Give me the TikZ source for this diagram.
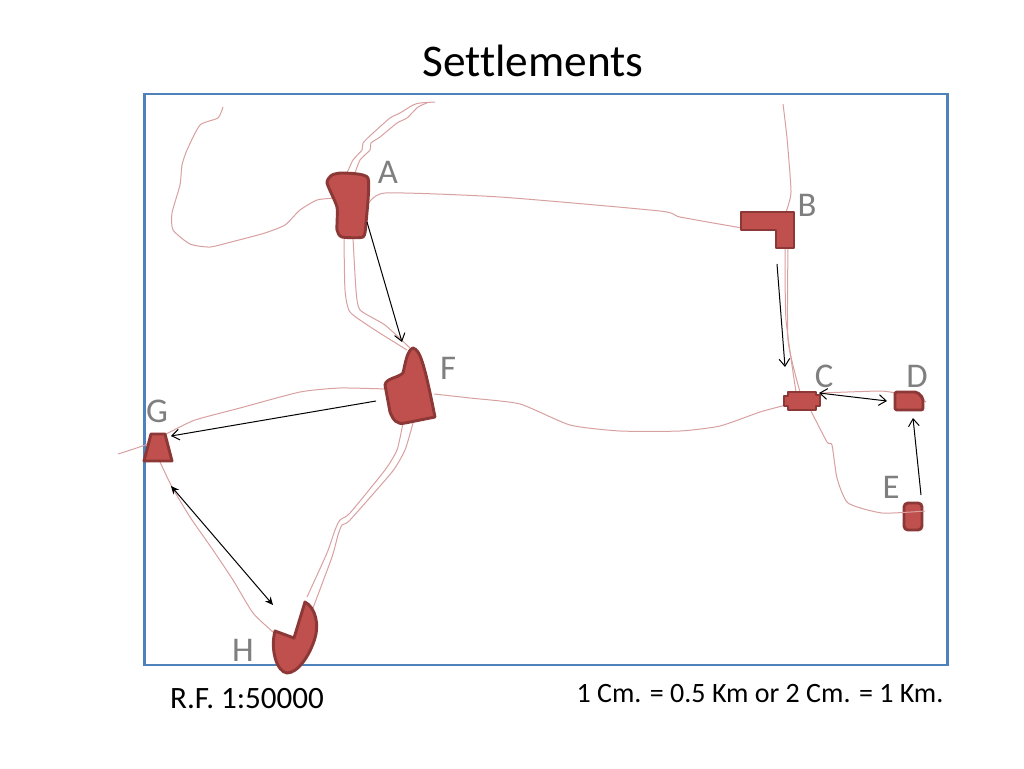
\documentclass[tikz,border=0pt]{standalone}
\usepackage{fontspec}
\setmainfont[Ligatures=CommonOff]{Carlito}
\usepackage{tikz}
\usetikzlibrary{arrows.meta,positioning}
\definecolor{frameblue}{RGB}{79,129,189}
\definecolor{townfill}{RGB}{192,80,77}
\definecolor{townline}{RGB}{140,56,54}
\definecolor{roadpink}{RGB}{217,160,160}
\definecolor{labelgray}{RGB}{127,127,127}
\tikzstyle{road} = [color=roadpink, line width=0.75pt, tension=0.35]
\tikzstyle{town} = [fill=townfill, draw=townline, line width=2.2pt, line join=round]
\tikzstyle{arrow} = [black, line width=0.75pt, -{Straight Barb[length=5.5pt,width=8pt]}]
\tikzstyle{bothways} = [black, line width=0.75pt, {Straight Barb[length=5.5pt,width=8pt]}-{Straight Barb[length=5.5pt,width=8pt]}]
\tikzstyle{twoway} = [black, line width=0.75pt, {Stealth[length=6pt,width=5.5pt]}-{Stealth[length=6pt,width=5.5pt]}]
\tikzstyle{placename} = [text=labelgray, font=\fontsize{26}{30}\selectfont, inner sep=0pt]
\begin{document}
\begin{tikzpicture}[x=0.75pt, y=-0.75pt]
\useasboundingbox (0,0) rectangle (1024,768);
\fill[white] (0,0) rectangle (1024,768);

% Title and frame
\node (title) [font=\fontsize{34}{40}\selectfont, inner sep=0pt] at (533,61) {Settlements};
\node (frame) [draw=frameblue, line width=2.2pt, minimum width=602pt, minimum height=428.25pt, inner sep=0pt] at (546,379.5) {};

% Roads
\draw[road] plot[smooth] coordinates {(347,173) (353,160) (362,150) (363,143) (372,134) (390,118) (400,113) (413,105) (420,103) (435,102)};
\draw[road] plot[smooth] coordinates {(355,173) (360,160) (370,150) (371,143) (380,137) (397,123) (407,118) (418,107) (427,103)};
\draw[road] plot[smooth] coordinates {(335,198) (317,200) (300,210) (285,225) (265,233) (235,241) (210,247) (190,244) (173,230) (172,213) (180,185) (182,165) (187,150) (200,125) (218,118) (223,107)};
\draw[road] plot[smooth] coordinates {(367,206) (385,193) (500,197) (660,211) (680,217) (742,228)};
\draw[road] plot[smooth] coordinates {(344,238) (345,290) (350,312) (375,330) (407,350)};
\draw[road] plot[smooth] coordinates {(353,238) (356,290) (360,310) (385,325) (410,348)};
\draw[road] plot[smooth] coordinates {(783,104) (787,138) (791,192) (786,212)};
\draw[road] plot[smooth] coordinates {(785,248) (786,320) (796,392)};
\draw[road] plot[smooth] coordinates {(788,248) (788,340) (800,392)};
\draw[road] plot[smooth] coordinates {(434,394) (470,398) (520,404) (570,425) (620,431) (680,431) (720,426) (760,412) (786,405)};
\draw[road] plot[smooth] coordinates {(820,393) (880,391) (895,393)};
\draw[road] (923,400) -- (926,402);
\draw[road] plot[smooth] coordinates {(386,389) (340,388) (300,392) (240,408) (195,420) (170,432) (145,445) (118,454)};
\draw[road] plot[smooth] coordinates {(160,462) (172,487) (190,517) (213,550) (233,580) (253,613) (273,632)};
\draw[road] plot[smooth] coordinates {(403,423) (397,450) (385,470) (350,513) (340,520) (335,530) (327,553) (307,597)};
\draw[road] plot[smooth] coordinates {(413,423) (405,450) (392,472) (350,520) (342,525) (338,535) (332,557) (313,608)};

% Settlements
\draw[town] plot[smooth cycle, tension=0.35] coordinates {(327,183) (332,175) (343,173) (368,178) (366,223) (363,237) (342,237) (337,230) (337,207)};
\draw[town] (741,212) -- (794,212) -- (794,248) -- (776,248) -- (776,230) -- (741,230) -- cycle;
\draw[town] (788,392) -- (816,392) -- (816,395) -- (820,395) -- (820,406) -- (816,406) -- (816,410) -- (788,410) -- (788,406) -- (784,406) -- (784,396) -- (788,396) -- cycle;
\draw[town, rounded corners=1.5pt] (895,392) -- (917,392) -- (923,398) -- (923,410) -- (895,410) -- cycle;
\draw[town, rounded corners=3pt] (904,503) rectangle (922,530);
\draw[road] plot[smooth] coordinates {(811,411) (827,442) (832,445) (837,478) (848,503) (882,513) (925,511)};
\draw[town] (413,348) .. controls (420,350) and (424,362) .. (435,417) -- (405,423) .. controls (397,425) and (393,420) .. (390,412) -- (385,385) .. controls (386,378) and (398,378) .. (403,373) .. controls (405,365) and (407,350) .. (413,348) -- cycle;
\draw[town] (151,434) -- (165,434) -- (172,461) -- (144,461) -- cycle;
\draw[town] (275,631) -- (294,638) -- (305,602) .. controls (316,608) and (319,625) .. (315,638) .. controls (310,655) and (298,673) .. (287,673) .. controls (277,672) and (270,650) .. (275,631) -- cycle;

% Labels
\node (labA) [placename] at (388,172) {A};
\node (labB) [placename] at (807,205) {B};
\node (labC) [placename] at (824,376) {C};
\node (labD) [placename] at (917,376) {D};
\node (labE) [placename] at (891,487) {E};
\node (labF) [placename] at (448,368) {F};
\node (labG) [placename] at (157,411) {G};
\node (labH) [placename] at (243,650) {H};
\node (rf) [font=\fontsize{23.3}{27}\selectfont, inner sep=0pt] at (247,699) {R.F. 1:50000};
\node (cmkm) [font=\fontsize{21}{25}\selectfont, inner sep=0pt] at (760,694) {1 Cm. = 0.5 Km or 2 Cm. = 1 Km.};

% Movement arrows
\coordinate (aOut) at (367,222);
\coordinate (fIn) at (402,342);
\coordinate (bOut) at (777,264);
\coordinate (cIn) at (785,367);
\coordinate (cSide) at (819,393);
\coordinate (dSide) at (887,401);
\coordinate (eOut) at (921,495);
\coordinate (dIn) at (913,418);
\coordinate (fOut) at (376,401);
\coordinate (gIn) at (171,436);
\coordinate (gSide) at (171,486);
\coordinate (hSide) at (273,605);
\draw[arrow] (aOut) -- (fIn);
\draw[arrow] (bOut) -- (cIn);
\draw[bothways] (cSide) -- (dSide);
\draw[arrow] (eOut) -- (dIn);
\draw[arrow] (fOut) -- (gIn);
\draw[twoway] (gSide) -- (hSide);
\end{tikzpicture}
\end{document}
